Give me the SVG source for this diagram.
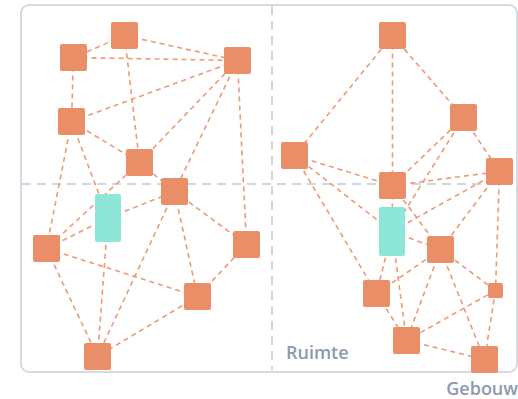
<svg xmlns="http://www.w3.org/2000/svg" width="518" height="399" viewBox="0 0 518 399">
  <style>
    .frame { fill: #ffffff; stroke: #d3dae3; stroke-width: 2; }
    .divider { stroke: #cfd7e1; stroke-width: 2; stroke-dasharray: 9 6; fill: none; }
    .link { stroke: #ee9a75; stroke-width: 1.6; stroke-dasharray: 5 4; fill: none; }
    .node { fill: #ea8e68; }
    .anchor { fill: #8ee7d6; }
    .label { font-family: "Open Sans", "Liberation Sans", sans-serif; font-weight: 600; font-size: 18px; fill: #8b9aad; }
  </style>

  <rect class="frame" x="21" y="5" width="496" height="367" rx="8"/>
  <line class="divider" x1="272" y1="6" x2="272" y2="370"/>
  <line class="divider" x1="22" y1="184" x2="517" y2="184"/>

  <g id="connectors">
    <!-- left half -->
    <line class="link" x1="124.5" y1="35.5" x2="73.5" y2="57.5"/>
    <line class="link" x1="124.5" y1="35.5" x2="237.5" y2="60.5"/>
    <line class="link" x1="73.5" y1="57.5" x2="237.5" y2="60.5"/>
    <line class="link" x1="124.5" y1="35.5" x2="139.5" y2="162.5"/>
    <line class="link" x1="73.5" y1="57.5" x2="71.5" y2="121.5"/>
    <line class="link" x1="71.5" y1="121.5" x2="237.5" y2="60.5"/>
    <line class="link" x1="71.5" y1="121.5" x2="139.5" y2="162.5"/>
    <line class="link" x1="237.5" y1="60.5" x2="139.5" y2="162.5"/>
    <line class="link" x1="237.5" y1="60.5" x2="174.5" y2="191.5"/>
    <line class="link" x1="237.5" y1="60.5" x2="246.5" y2="244.5"/>
    <line class="link" x1="71.5" y1="121.5" x2="46.5" y2="248.5"/>
    <line class="link" x1="71.5" y1="121.5" x2="108" y2="218"/>
    <line class="link" x1="139.5" y1="162.5" x2="46.5" y2="248.5"/>
    <line class="link" x1="139.5" y1="162.5" x2="174.5" y2="191.5"/>
    <line class="link" x1="46.5" y1="248.5" x2="108" y2="218"/>
    <line class="link" x1="108" y1="218" x2="174.5" y2="191.5"/>
    <line class="link" x1="46.5" y1="248.5" x2="197.5" y2="296.5"/>
    <line class="link" x1="46.5" y1="248.5" x2="97.5" y2="356.5"/>
    <line class="link" x1="108" y1="218" x2="97.5" y2="356.5"/>
    <line class="link" x1="174.5" y1="191.5" x2="97.5" y2="356.5"/>
    <line class="link" x1="174.5" y1="191.5" x2="197.5" y2="296.5"/>
    <line class="link" x1="174.5" y1="191.5" x2="246.5" y2="244.5"/>
    <line class="link" x1="246.5" y1="244.5" x2="197.5" y2="296.5"/>
    <line class="link" x1="197.5" y1="296.5" x2="97.5" y2="356.5"/>
    <!-- right half -->
    <line class="link" x1="392.5" y1="35.5" x2="294.5" y2="155.5"/>
    <line class="link" x1="392.5" y1="35.5" x2="392.5" y2="185.5"/>
    <line class="link" x1="392.5" y1="35.5" x2="463.5" y2="117.5"/>
    <line class="link" x1="463.5" y1="117.5" x2="499.5" y2="171.5"/>
    <line class="link" x1="463.5" y1="117.5" x2="392.5" y2="185.5"/>
    <line class="link" x1="463.5" y1="117.5" x2="392" y2="231.5"/>
    <line class="link" x1="294.5" y1="155.5" x2="392.5" y2="185.5"/>
    <line class="link" x1="294.5" y1="155.5" x2="392" y2="231.5"/>
    <line class="link" x1="294.5" y1="155.5" x2="376.5" y2="293.5"/>
    <line class="link" x1="392.5" y1="185.5" x2="499.5" y2="171.5"/>
    <line class="link" x1="392.5" y1="185.5" x2="392" y2="231.5"/>
    <line class="link" x1="392.5" y1="185.5" x2="440.5" y2="249.5"/>
    <line class="link" x1="392" y1="231.5" x2="499.5" y2="171.5"/>
    <line class="link" x1="392" y1="231.5" x2="440.5" y2="249.5"/>
    <line class="link" x1="440.5" y1="249.5" x2="499.5" y2="171.5"/>
    <line class="link" x1="499.5" y1="171.5" x2="495.5" y2="290.5"/>
    <line class="link" x1="495.5" y1="290.5" x2="484.5" y2="359.5"/>
    <line class="link" x1="392" y1="231.5" x2="376.5" y2="293.5"/>
    <line class="link" x1="392" y1="231.5" x2="406.5" y2="340.5"/>
    <line class="link" x1="440.5" y1="249.5" x2="376.5" y2="293.5"/>
    <line class="link" x1="440.5" y1="249.5" x2="406.5" y2="340.5"/>
    <line class="link" x1="440.5" y1="249.5" x2="484.5" y2="359.5"/>
    <line class="link" x1="440.5" y1="249.5" x2="495.5" y2="290.5"/>
    <line class="link" x1="495.5" y1="290.5" x2="406.5" y2="340.5"/>
    <line class="link" x1="376.5" y1="293.5" x2="406.5" y2="340.5"/>
    <line class="link" x1="406.5" y1="340.5" x2="484.5" y2="359.5"/>
  </g>

  <!-- left half nodes -->
  <g id="node-a"><rect class="node" x="111" y="22" width="27" height="27" rx="2"/></g>
  <g id="node-b"><rect class="node" x="60" y="44" width="27" height="27" rx="2"/></g>
  <g id="node-c"><rect class="node" x="224" y="47" width="27" height="27" rx="2"/></g>
  <g id="node-d"><rect class="node" x="58" y="108" width="27" height="27" rx="2"/></g>
  <g id="node-e"><rect class="node" x="126" y="149" width="27" height="27" rx="2"/></g>
  <g id="node-f"><rect class="node" x="161" y="178" width="27" height="27" rx="2"/></g>
  <g id="node-g"><rect class="anchor" x="95" y="194" width="26" height="48" rx="2"/></g>
  <g id="node-h"><rect class="node" x="33" y="235" width="27" height="27" rx="2"/></g>
  <g id="node-i"><rect class="node" x="233" y="231" width="27" height="27" rx="2"/></g>
  <g id="node-j"><rect class="node" x="184" y="283" width="27" height="27" rx="2"/></g>
  <g id="node-k"><rect class="node" x="84" y="343" width="27" height="27" rx="2"/></g>

  <!-- right half nodes -->
  <g id="node-l"><rect class="node" x="379" y="22" width="27" height="27" rx="2"/></g>
  <g id="node-m"><rect class="node" x="450" y="104" width="27" height="27" rx="2"/></g>
  <g id="node-n"><rect class="node" x="281" y="142" width="27" height="27" rx="2"/></g>
  <g id="node-o"><rect class="node" x="379" y="172" width="27" height="27" rx="2"/></g>
  <g id="node-p"><rect class="node" x="486" y="158" width="27" height="27" rx="2"/></g>
  <g id="node-q"><rect class="anchor" x="379" y="207" width="26" height="49" rx="2"/></g>
  <g id="node-r"><rect class="node" x="427" y="236" width="27" height="27" rx="2"/></g>
  <g id="node-s"><rect class="node" x="363" y="280" width="27" height="27" rx="2"/></g>
  <g id="node-t"><rect class="node" x="488" y="283" width="15" height="15" rx="2"/></g>
  <g id="node-u"><rect class="node" x="393" y="327" width="27" height="27" rx="2"/></g>
  <g id="node-v"><rect class="node" x="471" y="346" width="27" height="27" rx="2"/></g>

  <text class="label" x="286" y="359">Ruimte</text>
  <text class="label" x="518" y="395" text-anchor="end">Gebouw</text>
</svg>
